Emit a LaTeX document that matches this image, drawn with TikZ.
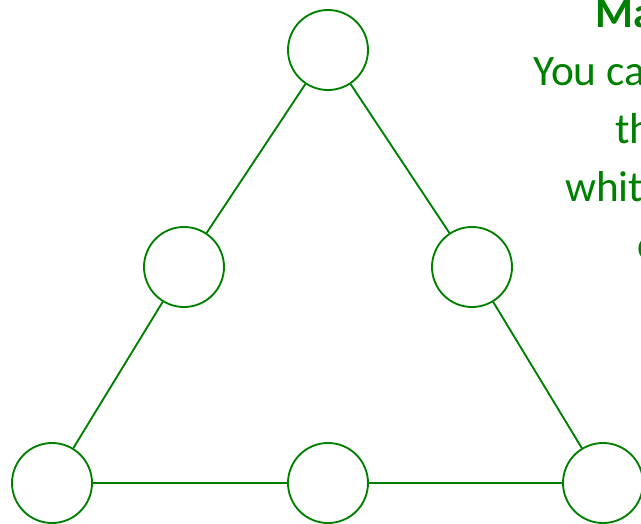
\documentclass[tikz,border=0pt]{standalone}
\usepackage{fontspec}
\setmainfont{Carlito}

\begin{document}
\begin{tikzpicture}[
  x=0.03cm, y=-0.03cm,
  line cap=round,
  line join=round,
  spot/.style={circle, draw=green!50!black, fill=white, line width=1.6pt,
    minimum size=2.4cm, inner sep=0pt},
  link/.style={draw=green!50!black, line width=1.6pt},
  words/.style={text=green!50!black, anchor=base west, inner sep=0pt,
    font=\fontsize{37}{44}\selectfont}
]
  \useasboundingbox (0,0) rectangle (641,523);
  \clip (0,0) rectangle (641,523);

  \node[spot] (top) at (328,50) {};
  \node[spot] (midL) at (184,267) {};
  \node[spot] (midR) at (472,267) {};
  \node[spot] (botL) at (52,483) {};
  \node[spot] (botM) at (328,483) {};
  \node[spot] (botR) at (603,483) {};

  \draw[link] (top) -- (midL);
  \draw[link] (midL) -- (botL);
  \draw[link] (top) -- (midR);
  \draw[link] (midR) -- (botR);
  \draw[link] (botL) -- (botM);
  \draw[link] (botM) -- (botR);

  % text block, cut off at the right edge
  \node[words, font=\fontsize{37}{44}\selectfont\bfseries] (ttl) at (595,27) {Ma};
  \node[words] (ln1) at (533,85) {You ca};
  \node[words] (ln2) at (615,143) {th};
  \node[words] (ln3) at (565,201) {whit};
  \node[words] (ln4) at (637,259) {c};
\end{tikzpicture}
\end{document}
